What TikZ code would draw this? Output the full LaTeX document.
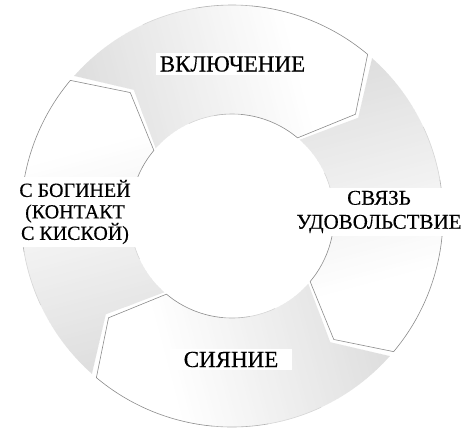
\documentclass[tikz,border=0pt]{standalone}
\usepackage{fontspec}
\setmainfont{Liberation Serif}[FakeBold=0.35]
\tikzset{
  lbl/.style={fill=white, align=center, text=black, inner xsep=4pt, inner ysep=3pt},
  outA/.style={draw=black!45, line width=0.6pt},
  outB/.style={draw=black!30, line width=0.6pt},
  outC/.style={draw=black!16, line width=0.6pt}
}
\def\Ro{211}
\def\Ri{102}
\def\Rm{160}
\def\gapang{1.6}
\def\tipd{10.5}
\newcommand\ringseg[3]{%
  \pgfmathsetmacro\Ta{#1-\gapang}%
  \pgfmathsetmacro\Tn{#1-\gapang-\tipd}%
  \pgfmathsetmacro\Hn{#2-\tipd}%
  \pgfmathsetmacro\Hb{#2+35}%
  \pgfmathsetmacro\Hc{#2+50}%
  \pgfmathsetmacro\Hd{#2+65}%
  \begin{scope}
    \clip ([shift={(C)}]\Ta:\Ro) arc[start angle=\Ta, end angle=#2, radius=\Ro]
      -- ([shift={(C)}]\Hn:\Rm) -- ([shift={(C)}]#2:\Ri)
      arc[start angle=#2, end angle=\Ta, radius=\Ri]
      -- ([shift={(C)}]\Tn:\Rm) -- cycle;
    \begin{scope}[shift={(C)}, rotate=#3]
      \foreach \sv in {-224,-220,...,224}{
        \pgfmathsetmacro\cv{max(0,min(14,0.06*(100-\sv)))}
        \fill[black!\cv] (\sv,-240) rectangle (\sv+4.6,240);
      }
    \end{scope}
  \end{scope}
  \draw[outA] ([shift={(C)}]\Hb:\Ro) arc[start angle=\Hb, end angle=#2, radius=\Ro]
      -- ([shift={(C)}]\Hn:\Rm) -- ([shift={(C)}]#2:\Ri)
      arc[start angle=#2, end angle=\Hb, radius=\Ri];
  \draw[outB] ([shift={(C)}]\Hc:\Ro) arc[start angle=\Hc, end angle=\Hb, radius=\Ro];
  \draw[outB] ([shift={(C)}]\Hb:\Ri) arc[start angle=\Hb, end angle=\Hc, radius=\Ri];
  \draw[outC] ([shift={(C)}]\Hd:\Ro) arc[start angle=\Hd, end angle=\Hc, radius=\Ro];
  \draw[outC] ([shift={(C)}]\Hc:\Ri) arc[start angle=\Hc, end angle=\Hd, radius=\Ri];
}
\begin{document}
\begin{tikzpicture}[x=1pt,y=1pt]
  \useasboundingbox (0,0) rectangle (476,-440);
  \fill[white] (0,0) rectangle (476,-440);
  \coordinate (C) at (232,-216);
  % four arrow segments of the ring (clockwise cycle)
  \ringseg{140}{50}{15}
  \ringseg{50}{-40}{-75}
  \ringseg{-40}{-130}{-165}
  \ringseg{230}{140}{105}
  % labels
  \node[lbl, font=\fontsize{23}{25}\selectfont, anchor=base] (top) at (232.5,-71.5) {ВКЛЮЧЕНИЕ};
  \node[lbl, font=\fontsize{21}{24}\selectfont] (right) at (379,-212) {СВЯЗЬ\\УДОВОЛЬСТВИЕ};
  \node[lbl, font=\fontsize{23}{25}\selectfont, anchor=base, minimum width=122pt] (bottom) at (231,-367) {СИЯНИЕ};
  \node[lbl, font=\fontsize{20}{21.5}\selectfont, inner xsep=16pt] (left) at (75,-212) {С БОГИНЕЙ\\(КОНТАКТ\\С КИСКОЙ)};
\end{tikzpicture}
\end{document}
